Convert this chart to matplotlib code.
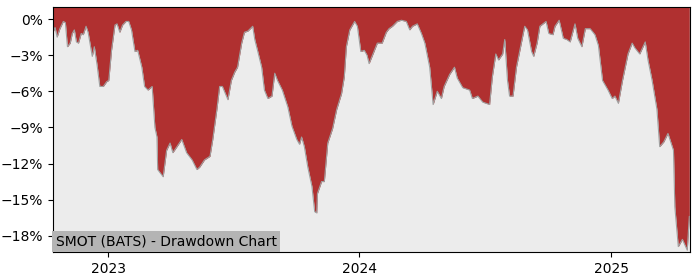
import pandas as pd
import matplotlib
matplotlib.use("Agg")
import matplotlib.pyplot as plt
import matplotlib.dates as mdates
from matplotlib.ticker import FuncFormatter

# drawdown (%)
dates = [
    "2022-10-13", "2022-10-16", "2022-10-19", "2022-10-23", "2022-10-28", "2022-10-31",
    "2022-11-03", "2022-11-07", "2022-11-10", "2022-11-13", "2022-11-16", "2022-11-19",
    "2022-11-23", "2022-11-26", "2022-11-30", "2022-12-03", "2022-12-09", "2022-12-12",
    "2022-12-16", "2022-12-20", "2022-12-25", "2022-12-30", "2023-01-02", "2023-01-06",
    "2023-01-11", "2023-01-14", "2023-01-18", "2023-01-22", "2023-01-27", "2023-01-31",
    "2023-02-04", "2023-02-09", "2023-02-13", "2023-02-19", "2023-02-23", "2023-02-28",
    "2023-03-06", "2023-03-10", "2023-03-13", "2023-03-14", "2023-03-22", "2023-03-27",
    "2023-04-01", "2023-04-05", "2023-04-11", "2023-04-18", "2023-04-25", "2023-05-03",
    "2023-05-10", "2023-05-14", "2023-05-21", "2023-05-29", "2023-06-02", "2023-06-08",
    "2023-06-12", "2023-06-16", "2023-06-24", "2023-06-29", "2023-07-04", "2023-07-08",
    "2023-07-14", "2023-07-18", "2023-07-23", "2023-07-30", "2023-08-02", "2023-08-06",
    "2023-08-12", "2023-08-16", "2023-08-21", "2023-08-27", "2023-08-31", "2023-09-04",
    "2023-09-11", "2023-09-19", "2023-09-25", "2023-10-02", "2023-10-06", "2023-10-09",
    "2023-10-13", "2023-10-18", "2023-10-24", "2023-10-28", "2023-10-31", "2023-11-01",
    "2023-11-07", "2023-11-11", "2023-11-16", "2023-11-23", "2023-11-29", "2023-12-06",
    "2023-12-10", "2023-12-13", "2023-12-18", "2023-12-25", "2023-12-29", "2024-01-03",
    "2024-01-08", "2024-01-12", "2024-01-15", "2024-01-20", "2024-01-27", "2024-02-03",
    "2024-02-09", "2024-02-13", "2024-02-18", "2024-02-25", "2024-03-02", "2024-03-09",
    "2024-03-14", "2024-03-18", "2024-03-25", "2024-03-31", "2024-04-05", "2024-04-12",
    "2024-04-17", "2024-04-23", "2024-04-29", "2024-05-03", "2024-05-11", "2024-05-18",
    "2024-05-22", "2024-05-30", "2024-06-09", "2024-06-13", "2024-06-21", "2024-06-28",
    "2024-07-08", "2024-07-12", "2024-07-17", "2024-07-21", "2024-07-27", "2024-07-30",
    "2024-08-03", "2024-08-06", "2024-08-11", "2024-08-16", "2024-08-21", "2024-08-28",
    "2024-09-01", "2024-09-07", "2024-09-10", "2024-09-15", "2024-09-19", "2024-09-28",
    "2024-10-02", "2024-10-08", "2024-10-11", "2024-10-17", "2024-10-23", "2024-10-28",
    "2024-11-02", "2024-11-09", "2024-11-13", "2024-11-19", "2024-11-24", "2024-12-01",
    "2024-12-08", "2024-12-13", "2024-12-19", "2024-12-23", "2024-12-27", "2025-01-02",
    "2025-01-06", "2025-01-11", "2025-01-17", "2025-01-21", "2025-01-25", "2025-01-31",
    "2025-02-04", "2025-02-11", "2025-02-19", "2025-02-23", "2025-03-01", "2025-03-08",
    "2025-03-12", "2025-03-18", "2025-03-24", "2025-04-01", "2025-04-03", "2025-04-08",
    "2025-04-14", "2025-04-21", "2025-04-24",
]
drawdown = [
    -1.1, -0.7, -1.5, -0.8, -0.2, -0.3,
    -2.3, -2.0, -1.2, -0.9, -1.9, -2.0,
    -1.2, -1.3, -0.6, -1.1, -3.1, -2.3,
    -3.8, -5.6, -5.6, -5.2, -5.1, -2.6,
    -0.5, -0.4, -1.1, -0.5, -0.2, -0.2,
    -0.9, -2.7, -2.6, -4.0, -5.6, -5.9,
    -5.6, -9.0, -9.8, -12.5, -13.1, -10.9,
    -10.3, -11.1, -10.6, -10.0, -11.1, -11.7,
    -12.5, -12.3, -11.7, -11.4, -10.0, -7.5,
    -5.6, -5.6, -6.7, -5.1, -4.4, -4.0,
    -2.0, -1.1, -1.0, -0.6, -1.7, -2.6,
    -4.0, -5.9, -6.6, -6.4, -4.5, -5.1,
    -5.9, -7.3, -8.9, -10.0, -10.4, -9.8,
    -10.6, -12.3, -13.9, -16.0, -16.1, -14.5,
    -13.5, -13.5, -10.3, -9.1, -7.5, -6.2,
    -4.8, -2.3, -0.9, -0.2, -0.6, -2.7,
    -2.6, -3.0, -3.7, -3.0, -2.0, -2.0,
    -1.1, -0.8, -0.6, -0.2, -0.1, -0.2,
    -0.9, -0.6, -0.4, -1.2, -2.0, -4.0,
    -7.1, -6.0, -6.6, -5.6, -4.6, -4.0,
    -4.9, -5.7, -5.9, -6.6, -6.4, -6.9,
    -7.1, -4.8, -2.9, -3.4, -2.9, -1.7,
    -5.1, -6.4, -6.4, -4.0, -2.6, -0.6,
    -0.9, -2.7, -3.1, -2.0, -0.6, -0.2,
    -1.2, -1.3, -0.6, -0.1, -1.6, -1.7,
    -1.9, -0.4, -1.6, -2.3, -0.8, -0.8,
    -1.3, -2.2, -5.1, -5.5, -5.9, -6.6,
    -6.4, -7.0, -5.1, -4.0, -2.9, -2.0,
    -2.4, -2.9, -1.9, -3.4, -5.1, -7.5,
    -10.6, -10.2, -9.5, -10.9, -15.6, -18.9,
    -18.3, -19.2, -16.4,
]
title = "SMOT (BATS) - Drawdown Chart"

x = pd.to_datetime(dates)

fig = plt.figure(figsize=(7, 2.8), dpi=100)
ax = fig.add_axes([0.0757, 0.1, 0.91, 0.875])
ax.set_facecolor("#ececec")

top = 1.0
ax.fill_between(x, drawdown, top, color="#b03030", linewidth=0)
ax.plot(x, drawdown, color="#a0a0a0", linewidth=0.8)

ax.set_xlim(x[0], x[-1] + pd.Timedelta(days=1))
ax.set_ylim(-19.35, top)
ax.set_yticks([0, -3, -6, -9, -12, -15, -18])
ax.yaxis.set_major_formatter(FuncFormatter(lambda v, p: f"{v:.0f}%".replace("-", "\u2212")))
ax.xaxis.set_major_locator(mdates.YearLocator())
ax.xaxis.set_major_formatter(mdates.DateFormatter("%Y"))
ax.tick_params(labelsize=10)

ax.text(0.0045, 0.014, title, transform=ax.transAxes, fontsize=10,
        ha="left", va="bottom",
        bbox=dict(facecolor="#b4b4b4", edgecolor="none", pad=2.6))

fig.savefig("out.png", dpi=100)
